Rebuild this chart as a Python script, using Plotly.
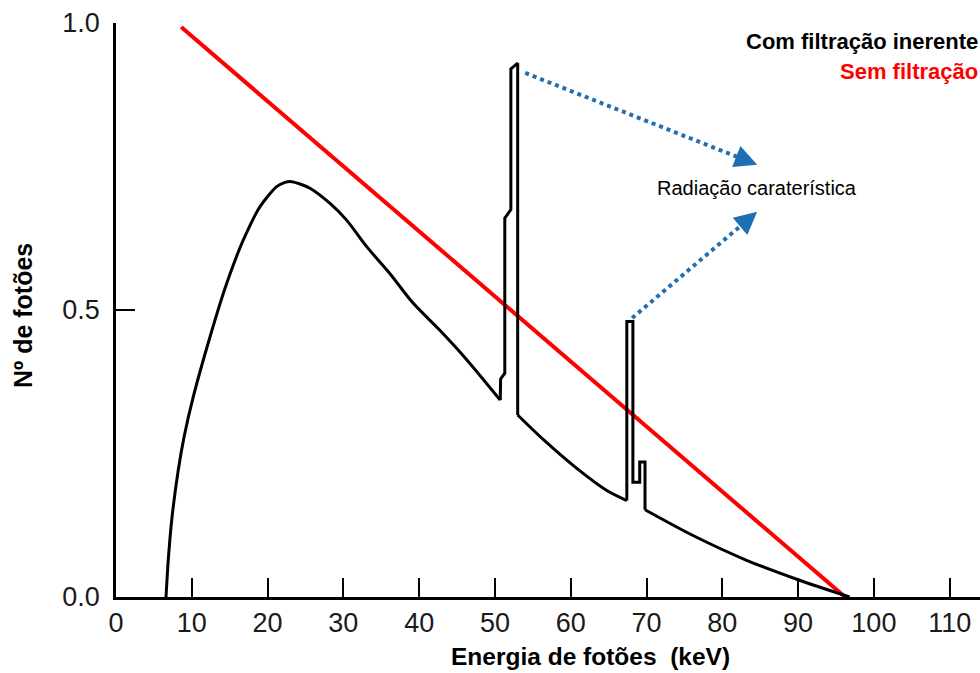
import plotly.graph_objects as go

# ---- data ----
energy_filtered = [6.6, 6.9, 7.35, 8.2, 9.0, 10.2, 12.4, 14.6, 16.8, 19.0, 21.2, 22.2, 23.0, 24.2, 25.6, 28.2, 30.4,
                   33.1, 36.1, 39.2, 42.7, 46.3, 50.7, 50.75, 51.3, 51.3, 52.1, 52.1, 53.0, 53.0,
                   56.4, 60.8, 64.7, 67.4, 67.4, 68.2, 68.2, 69.1, 69.1, 69.8, 69.8, 76.0, 83.2, 90.0, 96.8]
photons_filtered = [0.0, 0.065, 0.134, 0.22, 0.28, 0.349, 0.453, 0.546, 0.622, 0.68, 0.715, 0.722, 0.724, 0.72, 0.712,
                    0.686, 0.657, 0.61, 0.564, 0.512, 0.465, 0.413, 0.343, 0.38, 0.39, 0.66, 0.675, 0.92, 0.93, 0.317,
                    0.274, 0.224, 0.186, 0.168, 0.48, 0.48, 0.2, 0.2, 0.235, 0.235, 0.152, 0.108, 0.064, 0.03, 0.0]
energy_unfiltered = [8.6, 96.2]
photons_unfiltered = [0.993, 0.0]

x_ticks = [0, 10, 20, 30, 40, 50, 60, 70, 80, 90, 100, 110]
y_ticks = [0.0, 0.5, 1.0]

# characteristic-radiation arrows: (start_x, start_y, tip_x, tip_y)
arrow_lines = [(54.0, 0.913, 84.6, 0.753), (68.1, 0.486, 84.6, 0.671)]

BLUE = "#1f6fb5"
BOLD_FONT = "Liberation Sans, Arial, sans-serif"

fig = go.Figure()
fig.add_trace(go.Scatter(x=energy_unfiltered, y=photons_unfiltered, mode="lines",
                         line=dict(color="#ff0000", width=4), showlegend=False, hoverinfo="skip"))

# the filtered spectrum: smooth continuum pieces drawn as splines, sharp K-lines as straight segments
segments = [(0, 23, "spline"), (22, 30, "linear"), (29, 34, "spline"), (33, 41, "linear"), (40, 45, "spline")]
for i0, i1, shape in segments:
    fig.add_trace(go.Scatter(x=energy_filtered[i0:i1], y=photons_filtered[i0:i1], mode="lines",
                             line=dict(color="#000000", width=3, shape=shape, smoothing=0.8),
                             showlegend=False, hoverinfo="skip"))

annotations = []
for (x0, y0, x1, y1) in arrow_lines:
    f = 0.93
    xm, ym = x0 + (x1 - x0) * f, y0 + (y1 - y0) * f
    fig.add_trace(go.Scatter(x=[x0, xm], y=[y0, ym], mode="lines",
                             line=dict(color=BLUE, width=4, dash="dot"),
                             showlegend=False, hoverinfo="skip"))
    g = 0.9
    annotations.append(dict(x=x1, y=y1, ax=x0 + (x1 - x0) * g, ay=y0 + (y1 - y0) * g,
                            xref="x", yref="y", axref="x", ayref="y", text="",
                            showarrow=True, arrowhead=2, arrowsize=1.5, arrowwidth=3,
                            arrowcolor=BLUE, standoff=0))

W, H = 980, 673
L, R, T, B = 116, 0, 23, 76
pw, ph = W - L - R, H - T - B


def px_x(v):
    return (v - L) / pw


def px_y(v):
    return (H - B - v) / ph


annotations += [
    dict(text="Radiação caraterística", x=84.6, y=0.712, xref="x", yref="y",
         showarrow=False, xanchor="center", yanchor="middle",
         font=dict(family="Liberation Sans, Arial, sans-serif", size=20, color="#000000")),
    dict(text="<b>Com filtração inerente</b>", x=px_x(980), y=px_y(42), xref="paper", yref="paper",
         showarrow=False, xanchor="right", yanchor="middle",
         font=dict(family=BOLD_FONT, size=22, color="#000000")),
    dict(text="<b>Sem filtração</b>", x=px_x(980), y=px_y(72), xref="paper", yref="paper",
         showarrow=False, xanchor="right", yanchor="middle",
         font=dict(family=BOLD_FONT, size=22, color="#ff0000")),
    dict(text="<b>Energia de fotões  (keV)</b>", x=px_x(590), y=px_y(656), xref="paper", yref="paper",
         showarrow=False, xanchor="center", yanchor="middle",
         font=dict(family=BOLD_FONT, size=24.5, color="#000000")),
    dict(text="<b>Nº de fotões</b>", x=px_x(23), y=px_y(316), xref="paper", yref="paper",
         showarrow=False, xanchor="center", yanchor="middle", textangle=-90,
         font=dict(family=BOLD_FONT, size=25, color="#000000")),
]

fig.update_layout(
    width=W, height=H,
    margin=dict(l=L, r=R, t=T, b=B),
    paper_bgcolor="white", plot_bgcolor="white",
    annotations=annotations,
    xaxis=dict(range=[0, 114], tickvals=x_ticks, ticktext=[str(v) for v in x_ticks],
               showgrid=False, zeroline=False, showline=True, linecolor="black", linewidth=2.5,
               ticks="inside", ticklen=19, tickwidth=2, tickcolor="black",
               tickfont=dict(family="Liberation Sans, Arial, sans-serif", size=27, color="#1a1a1a"),
               ticklabelstandoff=0),
    yaxis=dict(range=[0, 1.0], tickvals=y_ticks, ticktext=[f"{v:.1f}" for v in y_ticks],
               showgrid=False, zeroline=False, showline=True, linecolor="black", linewidth=2.5,
               ticks="inside", ticklen=19, tickwidth=2, tickcolor="black",
               tickfont=dict(family="Liberation Sans, Arial, sans-serif", size=27, color="#1a1a1a"),
               ticklabelstandoff=8),
)

fig.write_html("out.html")
